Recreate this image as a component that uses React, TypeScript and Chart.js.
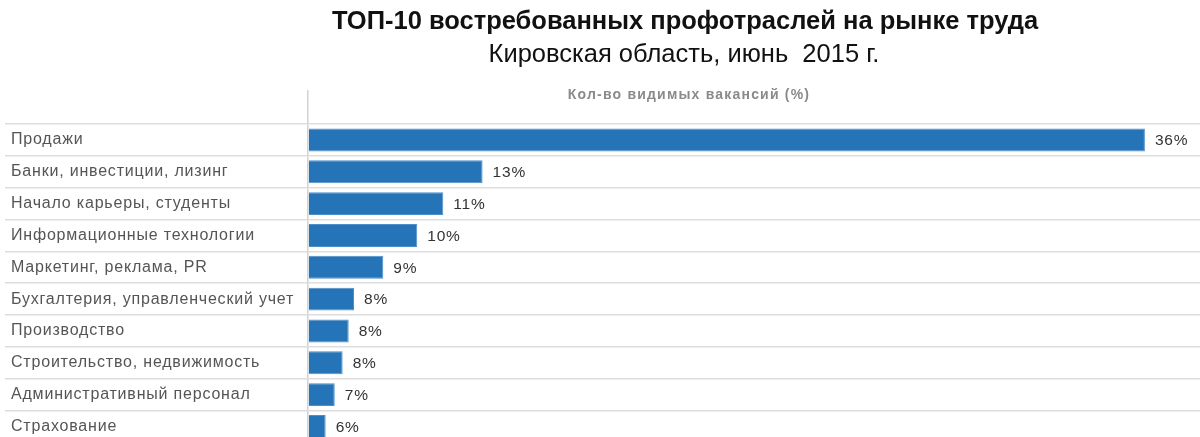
import React, { useEffect, useRef } from "react";
import { Chart, registerables } from "chart.js";

Chart.register(...registerables);

const titleText = "ТОП-10 востребованных профотраслей на рынке труда";
const subtitleText = "Кировская область, июнь  2015 г.";
const headerText = "Кол-во видимых вакансий (%)";

const categories = [
  "Продажи",
  "Банки, инвестиции, лизинг",
  "Начало карьеры, студенты",
  "Информационные технологии",
  "Маркетинг, реклама, PR",
  "Бухгалтерия, управленческий учет",
  "Производство",
  "Строительство, недвижимость",
  "Административный персонал",
  "Страхование",
];

// bar lengths as drawn in the picture (same scale as the 36% bar)
const barValues = [36, 7.51, 5.82, 4.7, 3.24, 1.98, 1.75, 1.49, 1.15, 0.76];
// value labels printed next to the bars
const valueLabels = ["36%", "13%", "11%", "10%", "9%", "8%", "8%", "8%", "7%", "6%"];

const FONT = "Arial, 'Liberation Sans', sans-serif";

const textPlugin = {
  id: "texts",
  beforeDraw(chart: any) {
    const ctx = chart.ctx;
    ctx.save();
    ctx.fillStyle = "#111";
    ctx.textAlign = "center";
    ctx.textBaseline = "alphabetic";
    ctx.font = `bold 25.5px ${FONT}`;
    ctx.fillText(titleText, 685, 29);
    ctx.font = `25.5px ${FONT}`;
    ctx.fillText(subtitleText, 684, 62);
    ctx.font = `bold 14px ${FONT}`;
    ctx.fillStyle = "#8a8a8a";
    ctx.letterSpacing = "1.2px";
    ctx.fillText(headerText, 689, 99);
    ctx.restore();
    ctx.letterSpacing = "0.8px";
  },
  afterDatasetsDraw(chart: any) {
    const ctx = chart.ctx;
    const meta = chart.getDatasetMeta(0);
    ctx.save();
    ctx.font = `15.5px ${FONT}`;
    ctx.fillStyle = "#333";
    ctx.textAlign = "left";
    ctx.textBaseline = "middle";
    meta.data.forEach((el: any, i: number) => {
      ctx.fillText(valueLabels[i], el.x + 10, el.y + 1);
    });
    ctx.restore();
  },
};

export default function App() {
  const ref = useRef<HTMLCanvasElement | null>(null);
  useEffect(() => {
    if (!ref.current) return;
    const chart = new Chart(ref.current, {
      type: "bar",
      data: {
        labels: categories,
        datasets: [
          {
            data: barValues,
            backgroundColor: "#2574b7",
            borderColor: "#4f8fc8",
            borderWidth: 1,
            categoryPercentage: 1,
            barPercentage: 0.72,
          },
        ],
      },
      options: {
        indexAxis: "y",
        animation: false,
        responsive: false,
        events: [],
        layout: { padding: { top: 90, left: 11, right: 0, bottom: 4 } },
        plugins: {
          legend: { display: false },
          title: { display: false },
          tooltip: { enabled: false },
        },
        scales: {
          x: {
            position: "top",
            min: 0,
            max: 38.37,
            ticks: { display: false },
            border: { display: false },
            grid: {
              drawTicks: true,
              tickLength: 34,
              lineWidth: 1.5,
              color: (c: any) => (c.tick && c.tick.value === 0 ? "#d2d2d2" : "rgba(0,0,0,0)"),
            },
          },
          y: {
            position: "left",
            border: { display: false },
            afterFit: (scale: any) => {
              scale.width = 297;
            },
            grid: {
              color: "#dddddd",
              lineWidth: 1.5,
              drawTicks: true,
              tickLength: 303,
            },
            ticks: {
              crossAlign: "far",
              color: "#555",
              font: { family: FONT, size: 16 },
              padding: 0,
            },
          },
        },
      },
      plugins: [textPlugin],
    });
    return () => chart.destroy();
  }, []);
  return (
    <div
      style={{
        position: "absolute",
        left: 0,
        top: 0,
        width: 1200,
        height: 437,
        overflow: "hidden",
        background: "#fff",
      }}
    >
      <canvas ref={ref} width={1200} height={452} style={{ display: "block" }} />
    </div>
  );
}
